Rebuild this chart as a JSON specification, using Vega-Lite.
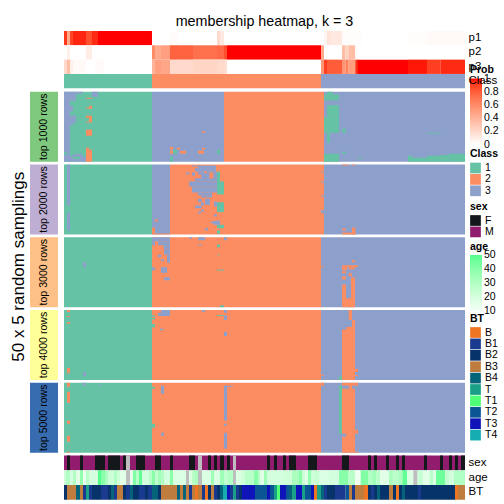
{
"$schema":"https://vega.github.io/schema/vega-lite/v6.json",
"background":"white",
"padding":{"left":8,"top":14,"right":0,"bottom":0},
"bounds":"flush",
"spacing":34,
"config":{"view":{"stroke":null},"font":"Liberation Sans","legend":{"orient":"none","titleFont":"Liberation Sans","labelFont":"Liberation Sans","titleFontSize":10.5,"titleFontWeight":"bold","titleColor":"black","labelColor":"black","labelFontSize":10.5,"symbolType":"square","symbolSize":115,"symbolStrokeWidth":0,"rowPadding":0.4,"titlePadding":3,"labelOffset":4,"gradientThickness":12,"gradientStrokeWidth":0,"labelOverlap":false}},
"datasets":{
"prob":[
{"track":"p1","c0":0,"c1":1,"v":0.92},{"track":"p1","c0":1,"c1":2,"v":0.45},{"track":"p1","c0":2,"c1":3,"v":0.88},{"track":"p1","c0":3,"c1":7.33,"v":0.96},{"track":"p1","c0":7.33,"c1":9.33,"v":0.85},{"track":"p1","c0":9.33,"c1":11.33,"v":0.95},{"track":"p1","c0":11.33,"c1":29.33,"v":1},{"track":"p1","c0":29.33,"c1":35.33,"v":0},{"track":"p1","c0":35.33,"c1":38,"v":0.02},{"track":"p1","c0":38,"c1":51,"v":0},{"track":"p1","c0":51,"c1":52,"v":0.2},{"track":"p1","c0":52,"c1":53.33,"v":0.12},{"track":"p1","c0":53.33,"c1":86.67,"v":0},{"track":"p1","c0":86.67,"c1":87.67,"v":0.05},{"track":"p1","c0":87.67,"c1":88.67,"v":0.15},{"track":"p1","c0":88.67,"c1":92.67,"v":0.12},{"track":"p1","c0":92.67,"c1":93.8,"v":0.02},{"track":"p1","c0":93.8,"c1":99.33,"v":0.01},{"track":"p1","c0":99.33,"c1":114.67,"v":0},{"track":"p1","c0":114.67,"c1":121,"v":0.01},{"track":"p1","c0":121,"c1":133.67,"v":0.03},
{"track":"p2","c0":0,"c1":1,"v":0},{"track":"p2","c0":1,"c1":2,"v":0.08},{"track":"p2","c0":2,"c1":7.33,"v":0},{"track":"p2","c0":7.33,"c1":9.33,"v":0.1},{"track":"p2","c0":9.33,"c1":29.33,"v":0},{"track":"p2","c0":29.33,"c1":30.33,"v":0.6},{"track":"p2","c0":30.33,"c1":32.33,"v":0.45},{"track":"p2","c0":32.33,"c1":35.33,"v":0.5},{"track":"p2","c0":35.33,"c1":43,"v":0.78},{"track":"p2","c0":43,"c1":51,"v":0.72},{"track":"p2","c0":51,"c1":53.33,"v":0.75},{"track":"p2","c0":53.33,"c1":54.33,"v":0.85},{"track":"p2","c0":54.33,"c1":85.67,"v":1},{"track":"p2","c0":85.67,"c1":86.67,"v":0.45},{"track":"p2","c0":86.67,"c1":92.67,"v":0},{"track":"p2","c0":92.67,"c1":93.8,"v":0.35},{"track":"p2","c0":93.8,"c1":94.9,"v":0.25},{"track":"p2","c0":94.9,"c1":97.1,"v":0.35},{"track":"p2","c0":97.1,"c1":98,"v":0.03},{"track":"p2","c0":98,"c1":133.67,"v":0},
{"track":"p3","c0":0,"c1":1,"v":0.2},{"track":"p3","c0":1,"c1":2,"v":0.35},{"track":"p3","c0":2,"c1":3,"v":0.08},{"track":"p3","c0":3,"c1":7.33,"v":0.03},{"track":"p3","c0":7.33,"c1":10.33,"v":0},{"track":"p3","c0":10.33,"c1":13.33,"v":0.02},{"track":"p3","c0":13.33,"c1":29.33,"v":0},{"track":"p3","c0":29.33,"c1":30.33,"v":0.4},{"track":"p3","c0":30.33,"c1":32.33,"v":0.5},{"track":"p3","c0":32.33,"c1":35.33,"v":0.47},{"track":"p3","c0":35.33,"c1":43,"v":0.2},{"track":"p3","c0":43,"c1":51,"v":0.22},{"track":"p3","c0":51,"c1":53.33,"v":0.2},{"track":"p3","c0":53.33,"c1":54.33,"v":0.18},{"track":"p3","c0":54.33,"c1":85.67,"v":0},{"track":"p3","c0":85.67,"c1":86.67,"v":0.55},{"track":"p3","c0":86.67,"c1":87.67,"v":0.9},{"track":"p3","c0":87.67,"c1":92.67,"v":0.8},{"track":"p3","c0":92.67,"c1":93.8,"v":0.55},{"track":"p3","c0":93.8,"c1":94.9,"v":0.65},{"track":"p3","c0":94.9,"c1":97.1,"v":0.5},{"track":"p3","c0":97.1,"c1":98,"v":0.95},{"track":"p3","c0":98,"c1":114.67,"v":1},{"track":"p3","c0":114.67,"c1":121,"v":0.98},{"track":"p3","c0":121,"c1":125.44,"v":0.9},{"track":"p3","c0":125.44,"c1":133.67,"v":0.95}
],
"classTrack":[{"track":"Class","c0":0,"c1":29.33,"k":1},{"track":"Class","c0":29.33,"c1":85.67,"k":2},{"track":"Class","c0":85.67,"c1":133.67,"k":3}],
"b1":[
{"c0":0,"c1":29.33,"r0":0,"r1":50,"k":1},{"c0":29.33,"c1":53.33,"r0":0,"r1":50,"k":3},{"c0":53.33,"c1":86.67,"r0":0,"r1":50,"k":2},{"c0":86.67,"c1":133.67,"r0":0,"r1":50,"k":3},
{"c0":0,"c1":2,"r0":0,"r1":43,"k":3},{"c0":2,"c1":4,"r0":0,"r1":6.4,"k":3},{"c0":4,"c1":6.33,"r0":0,"r1":1.4,"k":3},{"c0":9.33,"c1":11.33,"r0":0,"r1":3.6,"k":3},{"c0":2,"c1":3,"r0":10,"r1":14,"k":3},{"c0":2,"c1":4,"r0":17,"r1":22,"k":3},{"c0":2,"c1":3,"r0":22,"r1":24,"k":3},{"c0":1,"c1":2,"r0":43,"r1":45,"k":3},{"c0":0,"c1":2,"r0":45,"r1":50,"k":3},{"c0":3,"c1":6.33,"r0":44.3,"r1":46.4,"k":3},{"c0":2,"c1":3,"r0":46,"r1":50,"k":3},{"c0":5.33,"c1":7.33,"r0":46.4,"r1":50,"k":3},{"c0":3,"c1":5.33,"r0":48,"r1":50,"k":3},
{"c0":7.33,"c1":9.33,"r0":4.3,"r1":5,"k":2},{"c0":8.33,"c1":9.33,"r0":10,"r1":12.1,"k":2},{"c0":7.33,"c1":8.33,"r0":11.4,"r1":12.1,"k":2},{"c0":7.33,"c1":9.33,"r0":17.1,"r1":18.6,"k":2},{"c0":8.33,"c1":9.33,"r0":18.6,"r1":21.4,"k":2},{"c0":7.33,"c1":9.33,"r0":21.4,"r1":22,"k":2},{"c0":7.33,"c1":9.33,"r0":27.1,"r1":31.4,"k":2},{"c0":7.33,"c1":8.33,"r0":40,"r1":43,"k":2},{"c0":8.33,"c1":9.33,"r0":41.4,"r1":43,"k":2},{"c0":7.33,"c1":9.33,"r0":43,"r1":50,"k":2},
{"c0":46,"c1":47,"r0":28.1,"r1":29.3,"k":2},{"c0":35.33,"c1":36.33,"r0":39.3,"r1":41.4,"k":2},{"c0":37.67,"c1":38.67,"r0":40,"r1":41.4,"k":2},{"c0":35.33,"c1":36.33,"r0":42.1,"r1":44.3,"k":2},{"c0":38.67,"c1":40.67,"r0":42.1,"r1":44.3,"k":2},{"c0":44.67,"c1":46.67,"r0":42.1,"r1":44.3,"k":2},{"c0":46,"c1":47,"r0":40,"r1":41.4,"k":2},
{"c0":36.33,"c1":37.67,"r0":41.4,"r1":44.3,"k":1},{"c0":51,"c1":52,"r0":41.4,"r1":44.3,"k":1},{"c0":35.33,"c1":36.33,"r0":46.4,"r1":50,"k":1},
{"c0":87.67,"c1":89.67,"r0":0,"r1":2.4,"k":1},{"c0":86.67,"c1":91.67,"r0":1.9,"r1":6.2,"k":1},{"c0":87.67,"c1":91.67,"r0":9.5,"r1":17.9,"k":1},{"c0":86.67,"c1":91.67,"r0":17.9,"r1":29.3,"k":1},{"c0":92.67,"c1":94,"r0":26.4,"r1":29.3,"k":1},{"c0":87.67,"c1":88.67,"r0":29.3,"r1":36.4,"k":1},{"c0":86.67,"c1":91.67,"r0":44.3,"r1":50,"k":1},{"c0":92.67,"c1":94,"r0":42.9,"r1":44.3,"k":1},{"c0":98,"c1":99.33,"r0":46.7,"r1":47.4,"k":1},{"c0":114.67,"c1":116,"r0":45.7,"r1":50,"k":1},{"c0":116,"c1":121,"r0":47.1,"r1":50,"k":1},{"c0":121,"c1":125.44,"r0":45.7,"r1":50,"k":1},{"c0":125.44,"c1":128.22,"r0":45.2,"r1":50,"k":1},{"c0":128.22,"c1":133.67,"r0":44.3,"r1":50,"k":1},{"c0":121,"c1":125.44,"r0":29.3,"r1":29.9,"k":1}
],
"b2":[
{"c0":0,"c1":29.33,"r0":0,"r1":50,"k":1},{"c0":29.33,"c1":35.33,"r0":0,"r1":50,"k":3},{"c0":35.33,"c1":86.67,"r0":0,"r1":50,"k":2},{"c0":86.67,"c1":133.67,"r0":0,"r1":50,"k":3},
{"c0":29.33,"c1":30.33,"r0":45,"r1":50,"k":2},{"c0":30.33,"c1":31.33,"r0":39.3,"r1":40.7,"k":2},{"c0":30.33,"c1":35.33,"r0":49.3,"r1":50,"k":2},
{"c0":1,"c1":2,"r0":0,"r1":29.3,"k":3},{"c0":1,"c1":2,"r0":34.3,"r1":47.1,"k":3},
{"c0":44.67,"c1":50.67,"r0":0.7,"r1":5,"k":3},{"c0":42.67,"c1":44.67,"r0":0.7,"r1":1.4,"k":3},{"c0":43.67,"c1":44.67,"r0":2.6,"r1":5,"k":3},{"c0":40.67,"c1":41.67,"r0":5.7,"r1":7.1,"k":3},{"c0":42.67,"c1":43.67,"r0":5.7,"r1":7.9,"k":3},{"c0":44.67,"c1":46.67,"r0":5,"r1":7.1,"k":3},{"c0":45.67,"c1":51,"r0":5,"r1":9.8,"k":3},{"c0":43.67,"c1":51,"r0":9.8,"r1":12.1,"k":3},{"c0":41.67,"c1":51,"r0":12.1,"r1":15.7,"k":3},{"c0":42.67,"c1":51,"r0":15.7,"r1":20,"k":3},{"c0":44.67,"c1":49.33,"r0":20,"r1":22.1,"k":3},{"c0":45.67,"c1":49.33,"r0":22.1,"r1":23.6,"k":3},{"c0":44.67,"c1":45.9,"r0":24.5,"r1":27,"k":3},{"c0":47,"c1":48.67,"r0":24.5,"r1":28.8,"k":3},{"c0":45.67,"c1":46.67,"r0":27.1,"r1":29.3,"k":3},{"c0":43.67,"c1":45.9,"r0":29.3,"r1":31.2,"k":3},{"c0":45.67,"c1":46.67,"r0":32.1,"r1":33.6,"k":3},{"c0":44.67,"c1":45.67,"r0":33.6,"r1":35,"k":3},{"c0":50,"c1":51,"r0":26.4,"r1":30,"k":3},{"c0":50,"c1":51,"r0":35.5,"r1":37.1,"k":3},{"c0":50,"c1":52,"r0":40.2,"r1":43.1,"k":3},{"c0":49,"c1":50,"r0":40.7,"r1":42.1,"k":3},{"c0":47,"c1":48,"r0":45.5,"r1":47.1,"k":3},
{"c0":46.67,"c1":47.67,"r0":5,"r1":6.2,"k":2},{"c0":48.44,"c1":49.78,"r0":5.7,"r1":9.8,"k":2},
{"c0":51,"c1":52,"r0":5,"r1":21.4,"k":1},{"c0":52,"c1":53.33,"r0":12.1,"r1":21.4,"k":1},{"c0":51,"c1":53.33,"r0":27,"r1":34,"k":1},{"c0":51,"c1":53.33,"r0":43.1,"r1":45.5,"k":1},{"c0":51,"c1":52,"r0":47.1,"r1":49.5,"k":1},
{"c0":85.67,"c1":86.67,"r0":5,"r1":5.7,"k":3},{"c0":85.67,"c1":86.67,"r0":12.1,"r1":12.9,"k":3},{"c0":85.67,"c1":86.67,"r0":22.1,"r1":22.9,"k":3},{"c0":85.67,"c1":86.67,"r0":32.6,"r1":34.7,"k":3},
{"c0":92.67,"c1":94.89,"r0":0,"r1":0.7,"k":2},{"c0":96,"c1":97.11,"r0":0,"r1":0.7,"k":2},{"c0":92.67,"c1":94,"r0":45.7,"r1":47.1,"k":2},{"c0":92.67,"c1":97.11,"r0":48.6,"r1":50,"k":2},{"c0":96,"c1":97.11,"r0":45,"r1":50,"k":2}
],
"b3":[
{"c0":0,"c1":29.33,"r0":0,"r1":50,"k":1},{"c0":29.33,"c1":85.67,"r0":0,"r1":50,"k":2},{"c0":85.67,"c1":133.67,"r0":0,"r1":50,"k":3},
{"c0":29.33,"c1":35.33,"r0":0,"r1":2.9,"k":3},{"c0":29.33,"c1":30.33,"r0":2.9,"r1":5.7,"k":3},{"c0":31.33,"c1":35.33,"r0":2.9,"r1":5.7,"k":3},{"c0":33.11,"c1":35.33,"r0":5.7,"r1":8.1,"k":3},{"c0":33.33,"c1":35.33,"r0":8.1,"r1":12.4,"k":3},{"c0":34.33,"c1":35.33,"r0":12.4,"r1":18.3,"k":3},{"c0":31.33,"c1":32.33,"r0":12.4,"r1":14.3,"k":3},{"c0":32.33,"c1":33.33,"r0":15.7,"r1":17.1,"k":3},{"c0":32.33,"c1":34.33,"r0":21.4,"r1":25.5,"k":3},{"c0":29.33,"c1":30.33,"r0":21.4,"r1":23.6,"k":3},{"c0":33.33,"c1":35.33,"r0":28.6,"r1":30.7,"k":3},{"c0":6.33,"c1":7.33,"r0":17.9,"r1":21.4,"k":3},{"c0":41.67,"c1":42.67,"r0":0,"r1":1,"k":3},{"c0":44.67,"c1":47,"r0":0,"r1":2.1,"k":3},{"c0":44.67,"c1":46,"r0":5,"r1":5.7,"k":3},{"c0":53.33,"c1":54.33,"r0":0,"r1":2.1,"k":3},
{"c0":51,"c1":52,"r0":5.2,"r1":7.1,"k":1},{"c0":51,"c1":52,"r0":12.4,"r1":12.9,"k":1},{"c0":51,"c1":53.33,"r0":23.1,"r1":23.8,"k":1},{"c0":52,"c1":53.33,"r0":48.6,"r1":50,"k":1},
{"c0":96,"c1":97,"r0":16.4,"r1":17.9,"k":2},{"c0":92.67,"c1":98,"r0":20,"r1":21.4,"k":2},{"c0":92.67,"c1":94.33,"r0":21.4,"r1":23.6,"k":2},{"c0":94.89,"c1":96,"r0":21.4,"r1":22.9,"k":2},{"c0":96,"c1":97,"r0":21.4,"r1":22.9,"k":2},{"c0":92.67,"c1":94,"r0":24.3,"r1":25.7,"k":2},{"c0":94.89,"c1":96,"r0":25.7,"r1":27.9,"k":2},{"c0":92.67,"c1":94,"r0":27.9,"r1":30.2,"k":2},{"c0":92.67,"c1":94,"r0":33.8,"r1":50,"k":2},{"c0":95.67,"c1":97,"r0":28.6,"r1":50,"k":2},{"c0":94,"c1":95.67,"r0":43.6,"r1":50,"k":2},{"c0":85.67,"c1":86.67,"r0":20.7,"r1":21.4,"k":2}
],
"b4":[
{"c0":0,"c1":29.33,"r0":0,"r1":50,"k":1},{"c0":29.33,"c1":85.67,"r0":0,"r1":50,"k":2},{"c0":85.67,"c1":133.67,"r0":0,"r1":50,"k":3},
{"c0":1,"c1":2,"r0":0,"r1":1.4,"k":2},{"c0":1,"c1":2,"r0":4.3,"r1":5,"k":2},{"c0":1,"c1":2,"r0":8.6,"r1":9.8,"k":2},{"c0":1,"c1":2,"r0":41.4,"r1":44.3,"k":2},{"c0":1,"c1":2,"r0":44.6,"r1":45.3,"k":2},
{"c0":6.33,"c1":7.33,"r0":44.3,"r1":47.1,"k":3},
{"c0":29.33,"c1":30.33,"r0":3.8,"r1":5,"k":1},{"c0":29.33,"c1":30.33,"r0":5.7,"r1":6.7,"k":1},{"c0":29.33,"c1":30.33,"r0":10,"r1":12.4,"k":1},
{"c0":31.33,"c1":32.33,"r0":2.1,"r1":4.3,"k":3},{"c0":32.33,"c1":35.33,"r0":0,"r1":4.3,"k":3},{"c0":46,"c1":47,"r0":0,"r1":1.4,"k":3},{"c0":53.33,"c1":54.33,"r0":0,"r1":1.9,"k":3},{"c0":53.33,"c1":54.33,"r0":3.8,"r1":7.1,"k":3},{"c0":32,"c1":33.11,"r0":13.3,"r1":14.5,"k":3},{"c0":53.33,"c1":54.33,"r0":15.7,"r1":18.6,"k":3},
{"c0":51,"c1":53.33,"r0":3.6,"r1":4.3,"k":1},
{"c0":94.89,"c1":96,"r0":0,"r1":7.1,"k":2},{"c0":96,"c1":97,"r0":7.1,"r1":15.7,"k":2},{"c0":94,"c1":97,"r0":12.1,"r1":15.7,"k":2},{"c0":92.67,"c1":94,"r0":14,"r1":15.7,"k":2},{"c0":92.67,"c1":97,"r0":15.7,"r1":50,"k":2},{"c0":97,"c1":98,"r0":42.1,"r1":44.3,"k":2},{"c0":97,"c1":98,"r0":46.4,"r1":47.1,"k":2},{"c0":85.67,"c1":86.67,"r0":46.4,"r1":47.1,"k":2},{"c0":91.67,"c1":92.67,"r0":47.1,"r1":50,"k":1}
],
"b5":[
{"c0":0,"c1":29.33,"r0":0,"r1":50,"k":1},{"c0":29.33,"c1":85.67,"r0":0,"r1":50,"k":2},{"c0":85.67,"c1":133.67,"r0":0,"r1":50,"k":3},
{"c0":1,"c1":2,"r0":0,"r1":2.9,"k":2},{"c0":1,"c1":2,"r0":6.4,"r1":14.3,"k":2},{"c0":1,"c1":2,"r0":27.1,"r1":29.3,"k":2},{"c0":1,"c1":2,"r0":37.9,"r1":42.1,"k":2},{"c0":1,"c1":2,"r0":49.3,"r1":50,"k":2},
{"c0":6.33,"c1":7.33,"r0":0,"r1":2.1,"k":3},{"c0":11.33,"c1":12.33,"r0":1.4,"r1":2.1,"k":3},
{"c0":29.33,"c1":30.33,"r0":2.9,"r1":4.3,"k":1},{"c0":29.33,"c1":30.33,"r0":29.3,"r1":32.1,"k":1},
{"c0":32.33,"c1":33.33,"r0":2.1,"r1":7.9,"k":3},{"c0":32.33,"c1":33.33,"r0":35.7,"r1":37.9,"k":3},{"c0":53.33,"c1":54.33,"r0":2.1,"r1":27.1,"k":3},{"c0":53.33,"c1":56.33,"r0":2.1,"r1":2.9,"k":3},{"c0":53.33,"c1":54.33,"r0":29.3,"r1":30.7,"k":3},{"c0":53.33,"c1":54.33,"r0":35.7,"r1":47.1,"k":3},
{"c0":92.67,"c1":97,"r0":0,"r1":50,"k":2},{"c0":97,"c1":98,"r0":0,"r1":2.1,"k":2},{"c0":97,"c1":98,"r0":33.6,"r1":36.4,"k":2},{"c0":97,"c1":98,"r0":49.3,"r1":50,"k":2},{"c0":85.67,"c1":86.67,"r0":0,"r1":2.1,"k":2},
{"c0":92.67,"c1":95,"r0":2.1,"r1":4.3,"k":3},{"c0":96,"c1":97,"r0":2.1,"r1":4.3,"k":3},{"c0":92.67,"c1":94,"r0":36.4,"r1":38.6,"k":3},{"c0":91.67,"c1":92.67,"r0":2.1,"r1":36.4,"k":1}
],
"sex":[
{"track":"sex","c0":0,"c1":133.67,"v":"M"},
{"track":"sex","c0":1,"c1":2,"v":"F"},{"track":"sex","c0":5.33,"c1":6.33,"v":"F"},{"track":"sex","c0":10.33,"c1":13.67,"v":"F"},{"track":"sex","c0":14.67,"c1":18.67,"v":"F"},{"track":"sex","c0":19.67,"c1":20.67,"v":"F"},{"track":"sex","c0":20.67,"c1":22,"v":"NA"},{"track":"sex","c0":24,"c1":27,"v":"F"},{"track":"sex","c0":30.33,"c1":32.33,"v":"F"},{"track":"sex","c0":35.33,"c1":36.33,"v":"F"},{"track":"sex","c0":41.67,"c1":43.67,"v":"F"},{"track":"sex","c0":44.67,"c1":46,"v":"NA"},{"track":"sex","c0":48,"c1":49,"v":"F"},{"track":"sex","c0":50,"c1":51,"v":"F"},{"track":"sex","c0":52,"c1":53.33,"v":"F"},{"track":"sex","c0":54.33,"c1":55.33,"v":"F"},{"track":"sex","c0":56.33,"c1":57.33,"v":"NA"},{"track":"sex","c0":67.67,"c1":68.67,"v":"F"},{"track":"sex","c0":70,"c1":71,"v":"F"},{"track":"sex","c0":73,"c1":74,"v":"F"},{"track":"sex","c0":75,"c1":77.33,"v":"F"},{"track":"sex","c0":81.33,"c1":84.33,"v":"F"},{"track":"sex","c0":92.67,"c1":95,"v":"F"},{"track":"sex","c0":101.33,"c1":102.33,"v":"F"},{"track":"sex","c0":103.33,"c1":104.33,"v":"F"},{"track":"sex","c0":107.33,"c1":108.33,"v":"F"},{"track":"sex","c0":110.67,"c1":111.67,"v":"F"},{"track":"sex","c0":112.67,"c1":113.67,"v":"F"},{"track":"sex","c0":120,"c1":121,"v":"F"},{"track":"sex","c0":125.33,"c1":126.33,"v":"F"},{"track":"sex","c0":128.33,"c1":129.33,"v":"F"},{"track":"sex","c0":130.33,"c1":131.33,"v":"F"},{"track":"sex","c0":132.33,"c1":133.67,"v":"F"}
],
"age":[
{"track":"age","c0":0,"c1":0.67,"v":22},{"track":"age","c0":0.67,"c1":2,"v":30},{"track":"age","c0":2,"c1":3,"v":20},{"track":"age","c0":3,"c1":4,"v":30},{"track":"age","c0":4,"c1":5.33,"v":16},{"track":"age","c0":5.33,"c1":6.33,"v":38},{"track":"age","c0":6.33,"c1":7.33,"v":14},{"track":"age","c0":7.33,"c1":8.33,"v":28},{"track":"age","c0":8.33,"c1":11.33,"v":20},{"track":"age","c0":11.33,"c1":12.33,"v":50},{"track":"age","c0":12.33,"c1":13.67,"v":40},{"track":"age","c0":13.67,"c1":14.67,"v":32},{"track":"age","c0":14.67,"c1":16.67,"v":22},{"track":"age","c0":16.67,"c1":17.67,"v":30},{"track":"age","c0":17.67,"c1":18.67,"v":22},{"track":"age","c0":18.67,"c1":20.67,"v":16},{"track":"age","c0":22,"c1":23,"v":14},{"track":"age","c0":23,"c1":24,"v":42},{"track":"age","c0":24,"c1":25,"v":28},{"track":"age","c0":25,"c1":26,"v":48},{"track":"age","c0":26,"c1":28.33,"v":20},{"track":"age","c0":28.33,"c1":29.33,"v":28},{"track":"age","c0":29.33,"c1":30.33,"v":40},{"track":"age","c0":30.33,"c1":31.33,"v":26},{"track":"age","c0":31.33,"c1":32.33,"v":34},{"track":"age","c0":32.33,"c1":33.33,"v":30},{"track":"age","c0":33.33,"c1":35.33,"v":20},{"track":"age","c0":35.33,"c1":36.33,"v":40},{"track":"age","c0":36.33,"c1":40.67,"v":18},{"track":"age","c0":41.67,"c1":42.67,"v":18},{"track":"age","c0":42.67,"c1":43.67,"v":28},{"track":"age","c0":43.67,"c1":44.67,"v":32},{"track":"age","c0":46,"c1":49,"v":18},{"track":"age","c0":49,"c1":50,"v":35},{"track":"age","c0":50,"c1":52,"v":18},{"track":"age","c0":52,"c1":53.33,"v":35},{"track":"age","c0":53.33,"c1":54.44,"v":26},{"track":"age","c0":54.44,"c1":56.33,"v":30},{"track":"age","c0":57.33,"c1":58.89,"v":18},{"track":"age","c0":58.89,"c1":60.2,"v":22},{"track":"age","c0":60.2,"c1":63.33,"v":28},{"track":"age","c0":63.33,"c1":64.67,"v":40},{"track":"age","c0":64.67,"c1":65.33,"v":30},{"track":"age","c0":65.33,"c1":66.67,"v":16},{"track":"age","c0":66.67,"c1":67.67,"v":35},{"track":"age","c0":67.67,"c1":73.33,"v":20},{"track":"age","c0":73.33,"c1":76,"v":22},{"track":"age","c0":76,"c1":78.33,"v":32},{"track":"age","c0":78.33,"c1":79.33,"v":40},{"track":"age","c0":79.33,"c1":80.33,"v":22},{"track":"age","c0":80.33,"c1":81.33,"v":16},{"track":"age","c0":81.33,"c1":82.33,"v":38},{"track":"age","c0":82.33,"c1":83.67,"v":22},{"track":"age","c0":83.67,"c1":85,"v":24},{"track":"age","c0":85,"c1":88.33,"v":18},{"track":"age","c0":88.33,"c1":91.67,"v":20},{"track":"age","c0":91.67,"c1":94.67,"v":40},{"track":"age","c0":94.67,"c1":97,"v":28},{"track":"age","c0":97,"c1":98.89,"v":12},{"track":"age","c0":98.89,"c1":101.33,"v":42},{"track":"age","c0":101.33,"c1":102.44,"v":30},{"track":"age","c0":102.44,"c1":104.22,"v":34},{"track":"age","c0":104.22,"c1":105.33,"v":28},{"track":"age","c0":105.33,"c1":108.33,"v":16},{"track":"age","c0":108.33,"c1":109.78,"v":32},{"track":"age","c0":109.78,"c1":111.67,"v":28},{"track":"age","c0":111.67,"c1":112.78,"v":32},{"track":"age","c0":112.78,"c1":114.44,"v":48},{"track":"age","c0":114.44,"c1":116.44,"v":18},{"track":"age","c0":117.78,"c1":119.78,"v":24},{"track":"age","c0":119.78,"c1":121.89,"v":16},{"track":"age","c0":121.89,"c1":123,"v":28},{"track":"age","c0":123,"c1":124,"v":18},{"track":"age","c0":124,"c1":127,"v":46},{"track":"age","c0":127,"c1":128.33,"v":25},{"track":"age","c0":128.33,"c1":130,"v":20},{"track":"age","c0":130,"c1":133.67,"v":30}
],
"ageNA":[{"track":"age","c0":20.67,"c1":22},{"track":"age","c0":40.67,"c1":41.67},{"track":"age","c0":44.67,"c1":46},{"track":"age","c0":56.33,"c1":57.33},{"track":"age","c0":116.44,"c1":117.78}],
"bt":[
{"track":"BT","c0":0,"c1":1,"v":"B2"},{"track":"BT","c0":1,"c1":4,"v":"B3"},{"track":"BT","c0":4,"c1":5.33,"v":"B4"},{"track":"BT","c0":5.33,"c1":6.33,"v":"B3"},{"track":"BT","c0":6.33,"c1":7.33,"v":"B1"},{"track":"BT","c0":7.33,"c1":8.33,"v":"T"},{"track":"BT","c0":8.33,"c1":9.33,"v":"B1"},{"track":"BT","c0":9.33,"c1":12.33,"v":"B2"},{"track":"BT","c0":12.33,"c1":14.67,"v":"B1"},{"track":"BT","c0":14.67,"c1":15.67,"v":"B2"},{"track":"BT","c0":15.67,"c1":16.67,"v":"B4"},{"track":"BT","c0":16.67,"c1":17.67,"v":"B1"},{"track":"BT","c0":17.67,"c1":19.67,"v":"B3"},{"track":"BT","c0":19.67,"c1":20.67,"v":"B2"},{"track":"BT","c0":20.67,"c1":22,"v":"B1"},{"track":"BT","c0":22,"c1":23,"v":"B4"},{"track":"BT","c0":23,"c1":25,"v":"B2"},{"track":"BT","c0":25,"c1":27,"v":"B1"},{"track":"BT","c0":27,"c1":28,"v":"B2"},{"track":"BT","c0":28,"c1":29.33,"v":"B1"},{"track":"BT","c0":29.33,"c1":31.33,"v":"B4"},{"track":"BT","c0":31.33,"c1":32.33,"v":"B2"},{"track":"BT","c0":32.33,"c1":37.67,"v":"B3"},{"track":"BT","c0":37.67,"c1":38.67,"v":"B4"},{"track":"BT","c0":38.67,"c1":39.67,"v":"B3"},{"track":"BT","c0":39.67,"c1":40.67,"v":"B4"},{"track":"BT","c0":40.67,"c1":41.67,"v":"B3"},{"track":"BT","c0":41.67,"c1":42.67,"v":"B1"},{"track":"BT","c0":42.67,"c1":43.67,"v":"B3"},{"track":"BT","c0":43.67,"c1":44.67,"v":"B"},{"track":"BT","c0":44.67,"c1":46,"v":"B3"},{"track":"BT","c0":46,"c1":47,"v":"B1"},{"track":"BT","c0":47,"c1":48,"v":"B"},{"track":"BT","c0":48,"c1":49,"v":"B2"},{"track":"BT","c0":49,"c1":50,"v":"B3"},{"track":"BT","c0":50,"c1":51,"v":"B1"},{"track":"BT","c0":51,"c1":52,"v":"B2"},{"track":"BT","c0":52,"c1":53,"v":"B4"},{"track":"BT","c0":53,"c1":54.33,"v":"T4"},{"track":"BT","c0":54.33,"c1":55.33,"v":"T3"},{"track":"BT","c0":55.33,"c1":56.33,"v":"B1"},{"track":"BT","c0":56.33,"c1":57.33,"v":"T"},{"track":"BT","c0":57.33,"c1":58.33,"v":"B1"},{"track":"BT","c0":58.33,"c1":59.33,"v":"B2"},{"track":"BT","c0":59.33,"c1":60.33,"v":"T3"},{"track":"BT","c0":60.33,"c1":63.67,"v":"T3"},{"track":"BT","c0":63.67,"c1":67.67,"v":"T2"},{"track":"BT","c0":67.67,"c1":68.67,"v":"T3"},{"track":"BT","c0":68.67,"c1":70,"v":"T2"},{"track":"BT","c0":70,"c1":71,"v":"T"},{"track":"BT","c0":71,"c1":72,"v":"T1"},{"track":"BT","c0":72,"c1":74,"v":"T3"},{"track":"BT","c0":74,"c1":75,"v":"T2"},{"track":"BT","c0":75,"c1":76,"v":"B4"},{"track":"BT","c0":76,"c1":77.33,"v":"T"},{"track":"BT","c0":77.33,"c1":79.33,"v":"T3"},{"track":"BT","c0":79.33,"c1":80.33,"v":"T"},{"track":"BT","c0":80.33,"c1":82.33,"v":"T2"},{"track":"BT","c0":82.33,"c1":83.33,"v":"T3"},{"track":"BT","c0":83.33,"c1":84.33,"v":"B"},{"track":"BT","c0":84.33,"c1":85.67,"v":"T"},{"track":"BT","c0":85.67,"c1":86.67,"v":"B4"},{"track":"BT","c0":86.67,"c1":87.67,"v":"B1"},{"track":"BT","c0":87.67,"c1":90.33,"v":"B2"},{"track":"BT","c0":90.33,"c1":91.67,"v":"B1"},{"track":"BT","c0":91.67,"c1":93.33,"v":"B1"},{"track":"BT","c0":93.33,"c1":93.89,"v":"B1"},{"track":"BT","c0":93.89,"c1":95,"v":"T2"},{"track":"BT","c0":95,"c1":96,"v":"B3"},{"track":"BT","c0":96,"c1":97,"v":"B1"},{"track":"BT","c0":97,"c1":100,"v":"B3"},{"track":"BT","c0":100,"c1":101.33,"v":"B"},{"track":"BT","c0":101.33,"c1":102.33,"v":"B2"},{"track":"BT","c0":102.33,"c1":103.33,"v":"B1"},{"track":"BT","c0":103.33,"c1":104.33,"v":"B2"},{"track":"BT","c0":104.33,"c1":105.33,"v":"B4"},{"track":"BT","c0":105.33,"c1":108.33,"v":"B2"},{"track":"BT","c0":108.33,"c1":109.67,"v":"B3"},{"track":"BT","c0":109.67,"c1":110.67,"v":"B2"},{"track":"BT","c0":110.67,"c1":111.67,"v":"B"},{"track":"BT","c0":111.67,"c1":112.67,"v":"B2"},{"track":"BT","c0":112.67,"c1":113.67,"v":"B4"},{"track":"BT","c0":113.67,"c1":118,"v":"B2"},{"track":"BT","c0":118,"c1":119,"v":"B1"},{"track":"BT","c0":119,"c1":130.33,"v":"B2"},{"track":"BT","c0":130.33,"c1":131.33,"v":"B"},{"track":"BT","c0":131.33,"c1":133.67,"v":"B3"}
]
},
"hconcat":[
{"spacing":2.75,"bounds":"flush","vconcat":[
{"width":28,"height":57.25,"data":{"values":[{"s":"none"}]},"mark":{"type":"rect","opacity":0},"encoding":{}},
{"width":28,"height":70,"data":{"values":[{"strip":"top 1000 rows"}]},"encoding":{"y":{"field":"strip","type":"nominal","axis":null}},"layer":[{"mark":{"type":"rect","color":"#7FC97F"}},{"mark":{"type":"text","angle":270,"fontSize":10.6,"color":"black"},"encoding":{"text":{"field":"strip"}}}]},
{"width":28,"height":70,"data":{"values":[{"strip":"top 2000 rows"}]},"encoding":{"y":{"field":"strip","type":"nominal","axis":null}},"layer":[{"mark":{"type":"rect","color":"#BEAED4"}},{"mark":{"type":"text","angle":270,"fontSize":10.6,"color":"black"},"encoding":{"text":{"field":"strip"}}}]},
{"width":28,"height":70,"data":{"values":[{"strip":"top 3000 rows"}]},"encoding":{"y":{"field":"strip","type":"nominal","axis":{"title":"50 x 5 random samplings","titleFontSize":17,"titleFontWeight":"normal","titleColor":"black","titlePadding":3,"titleY":29,"labels":false,"ticks":false,"domain":false}}},"layer":[{"mark":{"type":"rect","color":"#FDC086"}},{"mark":{"type":"text","angle":270,"fontSize":10.6,"color":"black"},"encoding":{"text":{"field":"strip"}}}]},
{"width":28,"height":70,"data":{"values":[{"strip":"top 4000 rows"}]},"encoding":{"y":{"field":"strip","type":"nominal","axis":null}},"layer":[{"mark":{"type":"rect","color":"#FFFF99"}},{"mark":{"type":"text","angle":270,"fontSize":10.6,"color":"black"},"encoding":{"text":{"field":"strip"}}}]},
{"width":28,"height":70,"data":{"values":[{"strip":"top 5000 rows"}]},"encoding":{"y":{"field":"strip","type":"nominal","axis":null}},"layer":[{"mark":{"type":"rect","color":"#386CB0"}},{"mark":{"type":"text","angle":270,"fontSize":10.6,"color":"black"},"encoding":{"text":{"field":"strip"}}}]}
]},
{"spacing":2.75,"bounds":"flush","vconcat":[
{"width":401,"height":57.25,"title":{"text":"membership heatmap, k = 3","fontSize":14.3,"fontWeight":"normal","anchor":"middle","color":"black","offset":2},
"resolve":{"scale":{"color":"independent"}},
"encoding":{"x":{"field":"c0","type":"quantitative","scale":{"domain":[0,133.67],"nice":false,"zero":false},"axis":null},"x2":{"field":"c1"},"y":{"field":"track","type":"nominal","sort":null,"scale":{"domain":["p1","p2","p3","Class"],"padding":0},"axis":{"orient":"right","title":null,"ticks":false,"domain":false,"labelFontSize":11.5,"labelColor":"black","labelPadding":3}}},
"layer":[
{"data":{"name":"prob"},"mark":"rect","encoding":{"color":{"field":"v","type":"quantitative","scale":{"domain":[0,1],"range":["#FFFFFF","#FF0000"],"interpolate":"lab"},"legend":{"title":"Prob","type":"gradient","gradientLength":66,"values":[0,0.2,0.4,0.6,0.8,1],"format":"~g","legendX":406,"legendY":34,"encode":{"labels":{"update":{"baseline":{"value":"middle"}}}}}}}},
{"data":{"name":"classTrack"},"mark":"rect","encoding":{"color":{"field":"k","type":"nominal","scale":{"domain":[1,2,3],"range":["#66C2A5","#FC8D62","#8DA0CB"]},"legend":{"title":"Class","legendX":406,"legendY":118}}}}
]},
{"width":401,"height":70,"data":{"name":"b1"},"mark":"rect","encoding":{"x":{"field":"c0","type":"quantitative","scale":{"domain":[0,133.67],"nice":false,"zero":false},"axis":null},"x2":{"field":"c1"},"y":{"field":"r0","type":"quantitative","scale":{"domain":[0,50],"reverse":true,"nice":false,"zero":false},"axis":null},"y2":{"field":"r1"},"color":{"field":"k","type":"nominal","scale":{"domain":[1,2,3],"range":["#66C2A5","#FC8D62","#8DA0CB"]},"legend":null}}},
{"width":401,"height":70,"data":{"name":"b2"},"mark":"rect","encoding":{"x":{"field":"c0","type":"quantitative","scale":{"domain":[0,133.67],"nice":false,"zero":false},"axis":null},"x2":{"field":"c1"},"y":{"field":"r0","type":"quantitative","scale":{"domain":[0,50],"reverse":true,"nice":false,"zero":false},"axis":null},"y2":{"field":"r1"},"color":{"field":"k","type":"nominal","scale":{"domain":[1,2,3],"range":["#66C2A5","#FC8D62","#8DA0CB"]},"legend":null}}},
{"width":401,"height":70,"data":{"name":"b3"},"mark":"rect","encoding":{"x":{"field":"c0","type":"quantitative","scale":{"domain":[0,133.67],"nice":false,"zero":false},"axis":null},"x2":{"field":"c1"},"y":{"field":"r0","type":"quantitative","scale":{"domain":[0,50],"reverse":true,"nice":false,"zero":false},"axis":null},"y2":{"field":"r1"},"color":{"field":"k","type":"nominal","scale":{"domain":[1,2,3],"range":["#66C2A5","#FC8D62","#8DA0CB"]},"legend":null}}},
{"width":401,"height":70,"data":{"name":"b4"},"mark":"rect","encoding":{"x":{"field":"c0","type":"quantitative","scale":{"domain":[0,133.67],"nice":false,"zero":false},"axis":null},"x2":{"field":"c1"},"y":{"field":"r0","type":"quantitative","scale":{"domain":[0,50],"reverse":true,"nice":false,"zero":false},"axis":null},"y2":{"field":"r1"},"color":{"field":"k","type":"nominal","scale":{"domain":[1,2,3],"range":["#66C2A5","#FC8D62","#8DA0CB"]},"legend":null}}},
{"width":401,"height":70,"data":{"name":"b5"},"mark":"rect","encoding":{"x":{"field":"c0","type":"quantitative","scale":{"domain":[0,133.67],"nice":false,"zero":false},"axis":null},"x2":{"field":"c1"},"y":{"field":"r0","type":"quantitative","scale":{"domain":[0,50],"reverse":true,"nice":false,"zero":false},"axis":null},"y2":{"field":"r1"},"color":{"field":"k","type":"nominal","scale":{"domain":[1,2,3],"range":["#66C2A5","#FC8D62","#8DA0CB"]},"legend":null}}},
{"width":401,"height":44.25,
"resolve":{"scale":{"color":"independent"}},
"encoding":{"x":{"field":"c0","type":"quantitative","scale":{"domain":[0,133.67],"nice":false,"zero":false},"axis":null},"x2":{"field":"c1"},"y":{"field":"track","type":"nominal","sort":null,"scale":{"domain":["sex","age","BT"],"padding":0},"axis":{"orient":"right","title":null,"ticks":false,"domain":false,"labelFontSize":11.5,"labelColor":"black","labelPadding":3}}},
"layer":[
{"data":{"name":"sex"},"mark":"rect","encoding":{"color":{"field":"v","type":"nominal","scale":{"domain":["F","M","NA"],"range":["#14181B","#911C6E","#BEBEBE"]},"legend":{"title":"sex","values":["F","M"],"legendX":406,"legendY":-254}}}},
{"data":{"name":"age"},"mark":"rect","encoding":{"color":{"field":"v","type":"quantitative","scale":{"domain":[10,50],"range":["#F5FFF7","#55FF8E"]},"legend":{"title":"age","type":"gradient","gradientLength":56,"values":[10,20,30,40,50],"legendX":406,"legendY":-214,"encode":{"labels":{"update":{"baseline":{"value":"middle"}}}}}}}},
{"data":{"name":"ageNA"},"mark":{"type":"rect","color":"#BEBEBE"}},
{"data":{"name":"bt"},"mark":"rect","encoding":{"color":{"field":"v","type":"nominal","scale":{"domain":["B","B1","B2","B3","B4","T","T1","T2","T3","T4"],"range":["#EE7522","#1A3A8F","#07336B","#BE7D3E","#05647A","#1AA086","#50FF78","#0A5594","#0E14B8","#15ADB0"]},"legend":{"title":"BT","legendX":406,"legendY":-142}}}}
]}
]}
]
}
